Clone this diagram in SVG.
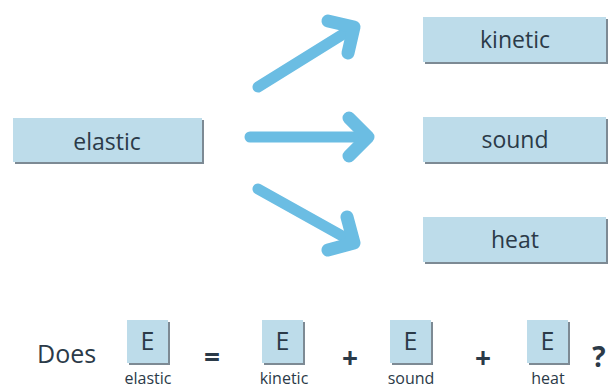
<svg xmlns="http://www.w3.org/2000/svg" width="609" height="390" viewBox="0 0 609 390">
<style>
.box{fill:#bddcea}
.sh{fill:#7d8a94}
.lbl{font-family:"Open Sans","Liberation Sans",sans-serif;font-size:23px;fill:#2b3a48;text-anchor:middle}
.big{font-family:"Open Sans","Liberation Sans",sans-serif;font-size:25px;fill:#2b3a48}
.sym{font-family:"Open Sans","Liberation Sans",sans-serif;font-size:28px;font-weight:bold;fill:#2b3a48;text-anchor:middle}
.q{font-family:"Open Sans","Liberation Sans",sans-serif;font-size:28px;font-weight:bold;fill:#2b3a48;text-anchor:middle}
.sub{font-family:"Open Sans","Liberation Sans",sans-serif;font-size:16px;fill:#2b3a48;text-anchor:middle}
.arr{fill:none;stroke:#6bbde3;stroke-width:11;stroke-linecap:round;stroke-linejoin:round}
.head{fill:none;stroke:#6bbde3;stroke-width:13;stroke-linecap:round;stroke-linejoin:round}
</style>
<rect width="609" height="390" fill="#ffffff"/>
<g id="elastic">
<rect class="sh" x="15" y="120" width="189" height="44"/>
<rect class="box" x="13" y="118" width="189" height="44"/>
<text class="lbl" x="107" y="150">elastic</text>
</g>
<g id="kinetic">
<rect class="sh" x="425" y="19" width="183" height="45"/>
<rect class="box" x="423" y="17" width="183" height="45"/>
<text class="lbl" x="515" y="48">kinetic</text>
</g>
<g id="sound">
<rect class="sh" x="425" y="119" width="183" height="45"/>
<rect class="box" x="423" y="117" width="183" height="45"/>
<text class="lbl" x="515" y="148">sound</text>
</g>
<g id="heat">
<rect class="sh" x="425" y="219" width="183" height="45"/>
<rect class="box" x="423" y="217" width="183" height="45"/>
<text class="lbl" x="515" y="248">heat</text>
</g>
<g id="connectors">
<path class="arr" d="M258,87 L353,28"/>
<path class="head" d="M328,21 L354,27 L348,53"/>
<path class="arr" d="M250,137 L366,137"/>
<path class="head" d="M349,118 L368,137 L349,156"/>
<path class="arr" d="M258,189 L353,242"/>
<path class="head" d="M347,217 L354,243 L328,250"/>
</g>
<g id="equation">
<text class="big" x="37" y="363">Does</text>
<g id="e-elastic">
<rect class="sh" x="129" y="322" width="41" height="43"/>
<rect class="box" x="127" y="320" width="41" height="43"/>
<text class="big" x="147.5" y="350" text-anchor="middle">E</text>
<text class="sub" x="148" y="384">elastic</text>
</g>
<text class="sym" x="212" y="367">=</text>
<g id="e-kinetic">
<rect class="sh" x="264" y="322" width="41" height="43"/>
<rect class="box" x="262" y="320" width="41" height="43"/>
<text class="big" x="282.5" y="350" text-anchor="middle">E</text>
<text class="sub" x="284" y="384">kinetic</text>
</g>
<text class="sym" x="350" y="368">+</text>
<g id="e-sound">
<rect class="sh" x="392" y="322" width="41" height="43"/>
<rect class="box" x="390" y="320" width="41" height="43"/>
<text class="big" x="410.5" y="350" text-anchor="middle">E</text>
<text class="sub" x="411" y="384">sound</text>
</g>
<text class="sym" x="483" y="368">+</text>
<g id="e-heat">
<rect class="sh" x="529" y="322" width="41" height="43"/>
<rect class="box" x="527" y="320" width="41" height="43"/>
<text class="big" x="547.5" y="350" text-anchor="middle">E</text>
<text class="sub" x="548" y="384">heat</text>
</g>
<text class="q" x="599" y="367">?</text>
</g>
</svg>
